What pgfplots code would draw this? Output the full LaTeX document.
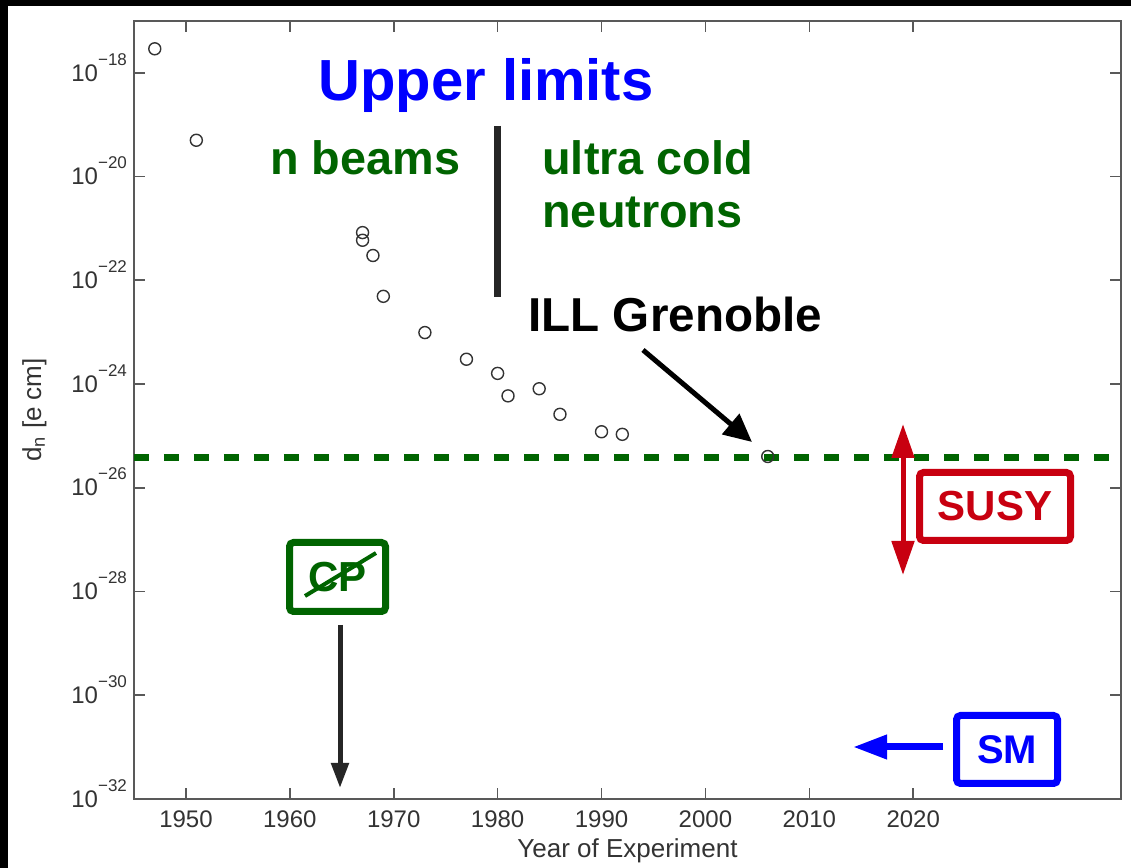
\documentclass[border=0pt]{standalone}
\usepackage{fontspec}
\setmainfont{Liberation Sans}
\usepackage{pgfplots}
\pgfplotsset{compat=1.18}
\usetikzlibrary{arrows.meta}
\definecolor{dgreen}{RGB}{0,100,0}
\definecolor{susyred}{RGB}{200,0,16}
\definecolor{sblue}{RGB}{0,0,255}
\newcommand\fs[1]{\fontsize{#1}{#1}\selectfont}
\newcommand\tl[1]{10\raisebox{8pt}[0pt][0pt]{\fs{8.5}−#1}}

\begin{document}
\begin{tikzpicture}
\fill[black] (-67pt,-34.55pt) rectangle (498.5pt,399.45pt);
\fill[white] (-63pt,-34.55pt) rectangle (498.5pt,396.45pt);
\begin{axis}[
  at={(0,0)}, anchor=south west, scale only axis,
  width=493.5pt, height=389pt,
  xmin=1945, xmax=2040,
  ymode=log, ymin=1e-32, ymax=1e-17,
  xtick={1950,1960,1970,1980,1990,2000,2010,2020},
  ytick={1e-32,1e-30,1e-28,1e-26,1e-24,1e-22,1e-20,1e-18},
  yticklabels={\tl{32},\tl{30},\tl{28},\tl{26},\tl{24},\tl{22},\tl{20},\tl{18}},
  yminorticks=false, xminorticks=false,
  tick align=inside, major tick length=5.5pt,
  axis line style={black!65, line width=0.8pt},
  tick style={black!65, line width=0.8pt},
  x tick label style={/pgf/number format/1000 sep={}, /pgf/number format/assume math mode=true,
     font=\fs{12}, text=black!80, yshift=-2.5pt},
  y tick label style={font=\fs{12}, text=black!80},
  xlabel={Year of Experiment},
  ylabel={d\textsubscript{n} [e cm]},
  xlabel style={at={(axis description cs:0.5,0)}, anchor=base, yshift=-29.5pt, font=\fs{13}, text=black!80},
  ylabel style={at={(axis description cs:-0.1008,0.5)}, anchor=center, rotate=0, font=\fs{13}, text=black!80},
]
\addplot[dgreen, line width=3.5pt, dash pattern=on 7.5pt off 7.5pt] coordinates {(1945,3.8e-26) (2040,3.8e-26)};
\addplot[only marks, mark=o, mark size=3pt, black!80, mark options={line width=0.7pt}] coordinates {
(1947,2.9e-18)
(1951,5e-20)
(1967,8.3e-22)
(1967,5.9e-22)
(1968,3.0e-22)
(1969,4.9e-23)
(1973,9.8e-24)
(1977,3.0e-24)
(1980,1.6e-24)
(1981,5.9e-25)
(1984,8.1e-25)
(1986,2.6e-25)
(1990,1.2e-25)
(1992,1.07e-25)
(2006,4.0e-26)
};
\end{axis}
\begin{scope}[shift={(-67pt,399.45pt)}, x=0.5pt, y=-0.5pt]
\node[anchor=base west, inner sep=0, text=sblue, font=\bfseries\fs{29}] at (318,101) {Upper limits};
\node[anchor=base west, inner sep=0, text=dgreen, font=\bfseries\fs{23.4}] at (270,175) {n beams};
\node[anchor=base west, inner sep=0, text=dgreen, font=\bfseries\fs{23.4}] at (542,175) {ultra cold};
\node[anchor=base west, inner sep=0, text=dgreen, font=\bfseries\fs{23.4}] at (542,228) {neutrons};
\draw[black!85, line width=3.5pt] (497,126) -- (497,297);
\node[anchor=base west, inner sep=0, font=\bfseries\fs{23.8}] at (528,332) {ILL Grenoble};
\draw[black, line width=2.5pt, -{Triangle[length=14pt,width=13pt]}] (643,350) -- (752,442);
\draw[susyred, line width=2.5pt, {Triangle[length=17pt,width=11pt]}-{Triangle[length=17pt,width=11pt]}] (903,424) -- (903,575);
\draw[susyred, line width=3.5pt, rounded corners=2pt] (919.5,472.5) rectangle (1070.5,540.5);
\node[text=susyred, font=\bfseries\fs{21}] at (995,506.5) {SUSY};
\draw[dgreen, line width=3.5pt, rounded corners=2pt] (289.5,542.5) rectangle (385.5,611.5);
\node[text=dgreen, font=\bfseries\fs{21}] at (337.5,577) {CP};
\draw[dgreen, line width=2pt] (305,596) -- (376,553);
\draw[black!85, line width=2.5pt, -{Triangle[length=12.5pt,width=8.5pt]}] (340,625) -- (340,788);
\draw[sblue, line width=3.5pt, rounded corners=2pt] (956.5,715.5) rectangle (1057.5,783.5);
\node[text=sblue, font=\bfseries\fs{20}] at (1007,749.5) {SM};
\draw[sblue, line width=3.5pt, -{Triangle[length=17pt,width=11.5pt]}] (943,747) -- (853,747);
\end{scope}
\pgfresetboundingbox
\useasboundingbox (-67pt,-34.55pt) rectangle (498.5pt,399.45pt);
\end{tikzpicture}
\end{document}
